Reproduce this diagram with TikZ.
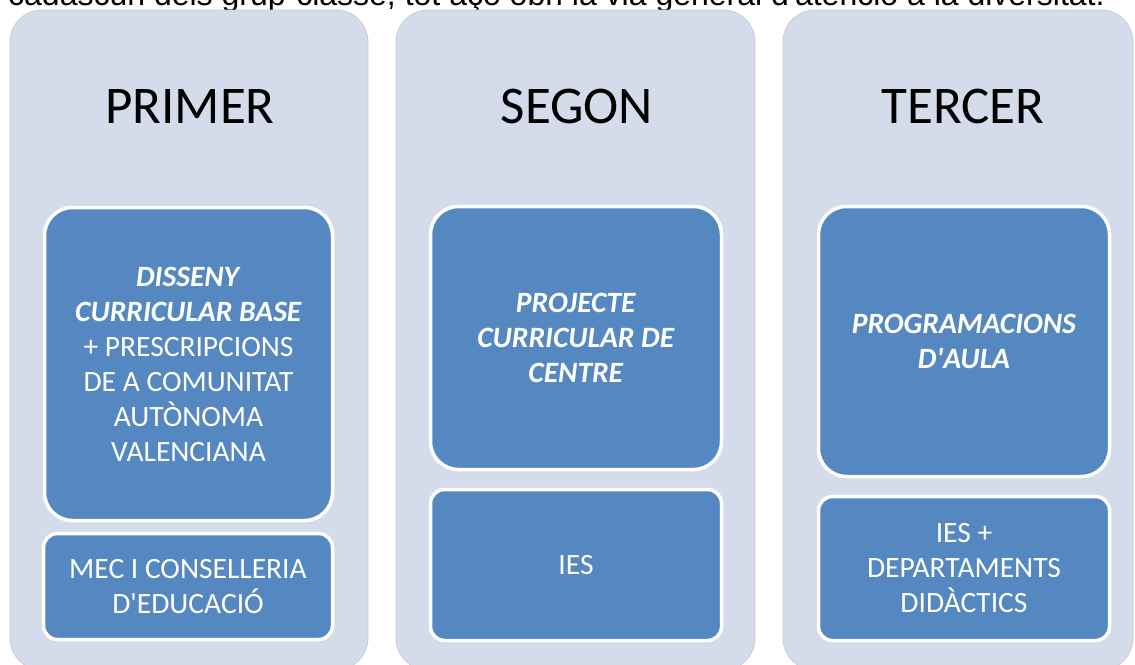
\documentclass[tikz,border=0pt]{standalone}
\usepackage{fontspec}
\setmainfont{Carlito}[Ligatures=TeXOff]
\newfontfamily\arialf{Liberation Sans}[Ligatures=TeXOff]
\definecolor{panelbg}{RGB}{212,219,234}
\definecolor{paneledge}{RGB}{196,203,220}
\definecolor{boxblue}{RGB}{85,136,193}
\tikzset{
  panel/.style={draw=paneledge, line width=0.8pt, fill=panelbg, rounded corners=32pt, inner sep=0pt},
  bigbox/.style={draw=white, line width=3.5pt, fill=boxblue, rounded corners=28pt, inner sep=0pt, text=white, align=center, font=\fontsize{29.5}{35}\selectfont},
  smallbox/.style={draw=white, line width=3.5pt, fill=boxblue, rounded corners=14pt, inner sep=0pt, text=white, align=center, font=\fontsize{29.5}{35}\selectfont},
  title/.style={font=\fontsize{53}{60}\selectfont, text=black, inner sep=0pt, anchor=base},
  topline/.style={font=\arialf\fontsize{32}{36}\selectfont, text=black, inner sep=0pt, anchor=base west}
}
\begin{document}
\begin{tikzpicture}[x=1pt,y=-1pt]
\useasboundingbox (0,0) rectangle (1135,664);
\clip (0,0) rectangle (1135,664);
\fill[white] (0,0) rectangle (1135,664);
\node[topline] (intro) at (8,5) {cadascun dels grup-classe, tot açò obri la via general d'atenció a la diversitat.};
% panels
\node[panel, minimum width=358pt, minimum height=660pt] (p1) at (189,340) {};
\node[panel, minimum width=359pt, minimum height=660pt] (p2) at (575.5,340) {};
\node[panel, minimum width=350pt, minimum height=660pt] (p3) at (958,340) {};
% titles
\node[title] (t1) at (190,123.5) {PRIMER};
\node[title] (t2) at (577,123.5) {SEGON};
\node[title] (t3) at (963,123.5) {TERCER};
% top boxes
\node[bigbox, minimum width=288pt, minimum height=313pt] (b1) at (188.5,364) {\textbf{\textit{DISSENY}}\\\textbf{\textit{CURRICULAR BASE}}\\+ PRESCRIPCIONS\\DE A COMUNITAT\\AUTÒNOMA\\VALENCIANA};
\node[bigbox, minimum width=291pt, minimum height=263pt] (b2) at (576,338) {\textbf{\textit{PROJECTE}}\\\textbf{\textit{CURRICULAR DE}}\\\textbf{\textit{CENTRE}}};
\node[bigbox, minimum width=291pt, minimum height=270pt] (b3) at (964,341.5) {\textbf{\textit{PROGRAMACIONS}}\\\textbf{\textit{D'AULA}}};
% bottom boxes
\node[smallbox, minimum width=289pt, minimum height=106pt] (s1) at (188,586.5) {MEC I CONSELLERIA\\D'EDUCACIÓ};
\node[smallbox, minimum width=291pt, minimum height=151pt] (s2) at (576,565) {IES};
\node[smallbox, minimum width=291pt, minimum height=144pt] (s3) at (964,568.5) {IES +\\DEPARTAMENTS\\DIDÀCTICS};
\end{tikzpicture}
\end{document}
